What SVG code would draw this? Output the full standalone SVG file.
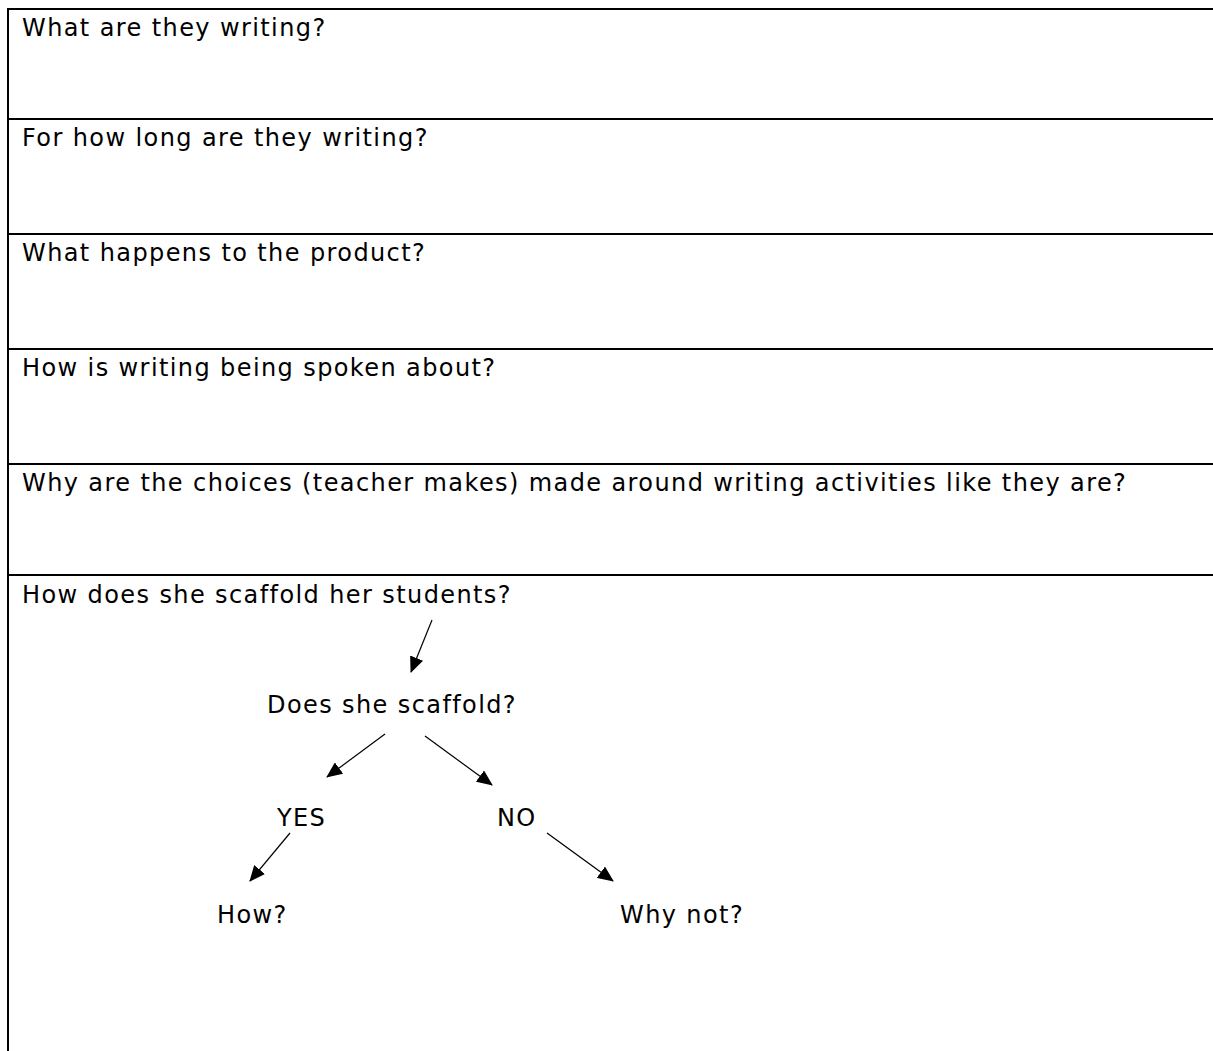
<svg xmlns="http://www.w3.org/2000/svg" width="1213" height="1051" viewBox="0 0 1213 1051">
  <defs>
    <style>
      .rule { stroke: #000; stroke-width: 2; fill: none; }
      .q { font-family: "DejaVu Sans", Verdana, sans-serif; font-size: 24px; letter-spacing: 1.4px; fill: #000; }
      .edge { stroke: #000; stroke-width: 1.2; fill: none; marker-end: url(#head); }
    </style>
    <marker id="head" viewBox="0 0 16 14" refX="15" refY="7" markerWidth="16" markerHeight="14" markerUnits="userSpaceOnUse" orient="auto">
      <path d="M0,0 L16,7 L0,14 Z" fill="#000"/>
    </marker>
  </defs>
  <rect width="1213" height="1051" fill="#fff"/>

  <!-- table frame and row rules -->
  <g id="table">
    <line class="rule" x1="7" y1="9" x2="1213" y2="9"/>
    <line class="rule" x1="8" y1="8" x2="8" y2="1051"/>
    <line class="rule" x1="8" y1="119" x2="1213" y2="119"/>
    <line class="rule" x1="8" y1="234" x2="1213" y2="234"/>
    <line class="rule" x1="8" y1="349" x2="1213" y2="349"/>
    <line class="rule" x1="8" y1="464" x2="1213" y2="464"/>
    <line class="rule" x1="8" y1="575" x2="1213" y2="575"/>
  </g>

  <g id="q1"><text class="q" x="22" y="36">What are they writing?</text></g>
  <g id="q2"><text class="q" x="22" y="146">For how long are they writing?</text></g>
  <g id="q3"><text class="q" x="22" y="261">What happens to the product?</text></g>
  <g id="q4"><text class="q" x="22" y="376">How is writing being spoken about?</text></g>
  <g id="q5"><text class="q" x="22" y="491">Why are the choices (teacher makes) made around writing activities like they are?</text></g>
  <g id="q6"><text class="q" x="22" y="603">How does she scaffold her students?</text></g>

  <!-- decision tree -->
  <g id="n-does"><text class="q" x="267" y="713">Does she scaffold?</text></g>
  <g id="n-yes"><text class="q" x="277" y="826">YES</text></g>
  <g id="n-no"><text class="q" x="497" y="826">NO</text></g>
  <g id="n-how"><text class="q" x="217" y="923">How?</text></g>
  <g id="n-whynot"><text class="q" x="620" y="923">Why not?</text></g>

  <g id="connectors">
    <line class="edge" x1="432" y1="620" x2="411" y2="672"/>
    <line class="edge" x1="385" y1="734" x2="327" y2="777"/>
    <line class="edge" x1="425" y1="736" x2="492" y2="785"/>
    <line class="edge" x1="290" y1="833" x2="250" y2="881"/>
    <line class="edge" x1="547" y1="833" x2="613" y2="881"/>
  </g>
</svg>
